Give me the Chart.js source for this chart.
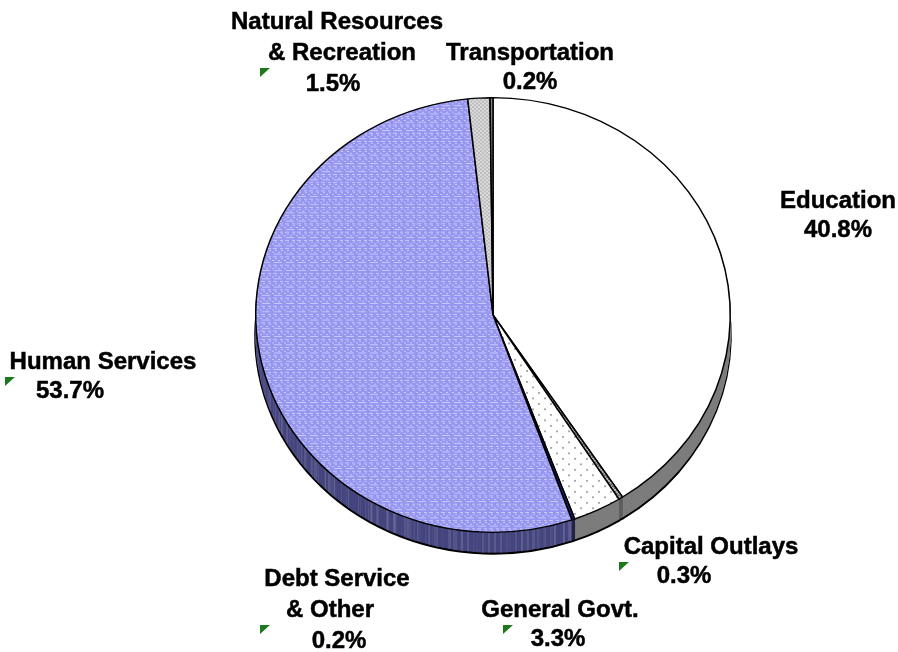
<!DOCTYPE html>
<html>
<head>
<meta charset="utf-8">
<style>
  html, body { margin: 0; padding: 0; background: #fff; }
  canvas { display: block; }
</style>
<script src="https://cdn.jsdelivr.net/npm/chart.js@4"></script>
</head>
<body>
<canvas id="pie" width="898" height="652"></canvas>
<script>
// Parts, clockwise from 12 o'clock
const categories = [
    ['Education'],
    ['Capital Outlays'],
    ['General Govt.'],
    ['Debt Service', '& Other'],
    ['Human Services'],
    ['Natural Resources', '& Recreation'],
    ['Transportation']
];
const percents = [40.8, 0.3, 3.3, 0.2, 53.7, 1.5, 0.2];

// Where each label sits: first baseline, then centre x of every line (the percent line last)
const labelTop = [208, 554, 617, 586, 369, 29, 60];
const labelX = [
    [838, 838],
    [711, 684],
    [560, 558],
    [337, 330, 339],
    [103, 70],
    [337, 342, 333],
    [530, 530]
];
// Little green corner marks left over from the spreadsheet
const marks = [[5, 377], [260, 68], [260, 625], [503, 625], [619, 562]];

// Pie ellipse on the page
const cx = 493, cy = 315, rx = 238, ry = 218, depth = 21;

// Small tiles for the hatched fills
function tile(w, h, base, dots, dotColor) {
    const c = document.createElement('canvas');
    c.width = w;
    c.height = h;
    const g = c.getContext('2d');
    g.fillStyle = base;
    g.fillRect(0, 0, w, h);
    g.fillStyle = dotColor;
    dots.forEach(d => g.fillRect(d[0], d[1], d[2], d[3]));
    return g.createPattern(c, 'repeat');
}

const blueDots = [[1, 1, 4, 1], [8, 1, 3, 1], [3, 3, 2, 1], [9, 3, 2, 1], [0, 5, 2, 1], [6, 5, 2, 1], [2, 7, 8, 1]];
const humanFill = tile(12, 9, '#9696f0', blueDots, '#ccccfc');
const humanSide = tile(12, 9, '#44447f', blueDots, '#6c6c98');
const generalFill = tile(12, 12, '#ffffff', [[2, 2, 2, 2], [8, 8, 2, 2]], '#a8a8a8');
const naturalFill = tile(4, 4, '#bcbcbc', [[0, 0, 2, 2], [2, 2, 2, 2]], '#dcdcdc');
const capitalFill = tile(4, 4, '#bcbcbc', [[0, 0, 2, 2], [2, 2, 2, 2]], '#666666');

const faceColors = ['#ffffff', capitalFill, generalFill, '#1c1c6c', humanFill, naturalFill, '#808080'];
const sideColors = ['#7c7c7c', '#5c5c5c', '#7c7c7c', '#202040', humanSide, '#8c8c8c', '#5c5c5c'];

// Redraws the arcs in another colour, for the rim of the pie
function drawRim(chart, ctx) {
    const arcs = chart.getDatasetMeta(0).data;
    for (let d = depth; d >= 1; d--) {
        ctx.save();
        ctx.translate(0, d / (ry / rx));
        arcs.forEach((arc, i) => {
            const keep = arc.options;
            arc.options = {
                ...keep,
                backgroundColor: sideColors[i],
                borderColor: d === depth ? '#000' : sideColors[i],
                borderWidth: d === depth ? 3 : 1
            };
            arc.draw(ctx);
            arc.options = keep;
        });
        ctx.restore();
    }
}

// Chart.js only draws round pies, so squash it and add the rim
const tiltPlugin = {
    id: 'tilt',
    beforeDatasetsDraw(chart) {
        const ctx = chart.ctx;
        const arc = chart.getDatasetMeta(0).data[0];
        ctx.save();
        ctx.translate(cx, cy);
        ctx.scale(1, ry / rx);
        ctx.translate(-arc.x, -arc.y);
        drawRim(chart, ctx);
    },
    afterDatasetsDraw(chart) {
        chart.ctx.restore();
    }
};

const labelPlugin = {
    id: 'labels',
    afterDraw(chart) {
        const ctx = chart.ctx;
        ctx.save();
        ctx.fillStyle = '#000';
        ctx.strokeStyle = '#000';
        ctx.lineWidth = 0.5;
        ctx.font = 'bold 24px "Liberation Sans", Arial, sans-serif';
        ctx.textAlign = 'center';
        const put = (text, x, y) => {
            ctx.fillText(text, x, y);
            ctx.strokeText(text, x, y);
        };
        categories.forEach((lines, i) => {
            const top = labelTop[i];
            const xs = labelX[i];
            lines.forEach((line, j) => put(line, xs[j], top + j * 31));
            put(percents[i].toFixed(1) + '%', xs[lines.length], top + lines.length * (lines.length > 1 ? 31 : 29));
        });
        ctx.fillStyle = '#1c7a1c';
        marks.forEach(m => {
            ctx.beginPath();
            ctx.moveTo(m[0], m[1]);
            ctx.lineTo(m[0] + 10, m[1]);
            ctx.lineTo(m[0], m[1] + 9);
            ctx.closePath();
            ctx.fill();
        });
        ctx.restore();
    }
};

new Chart(document.getElementById('pie'), {
    type: 'pie',
    data: {
        labels: categories.map(c => c.join(' ')),
        datasets: [{
            data: percents,
            backgroundColor: faceColors,
            borderColor: '#000000',
            borderWidth: 1.5,
            clip: false
        }]
    },
    options: {
        responsive: false,
        animation: false,
        devicePixelRatio: 1,
        layout: { padding: { left: 211, right: 211, top: 88, bottom: 88 } },
        plugins: {
            legend: { display: false },
            tooltip: { enabled: false }
        }
    },
    plugins: [tiltPlugin, labelPlugin]
});
</script>
</body>
</html>
